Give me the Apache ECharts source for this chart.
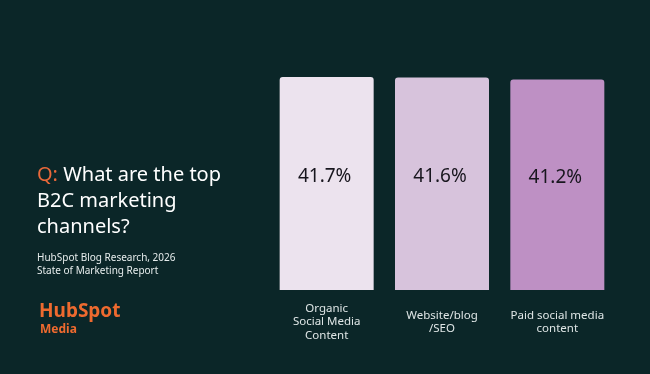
<!DOCTYPE html>
<html><head><meta charset="utf-8">
<script src="https://cdn.jsdelivr.net/npm/echarts@6/dist/echarts.min.js"></script>
<style>html,body{margin:0;padding:0;background:#0b2628;}#c{width:650px;height:374px;}</style>
</head><body><div id="c"></div>
<script>
const categories = ['Organic\nSocial Media\nContent', 'Website/blog\n/SEO', 'Paid social media\ncontent'];
const values = [41.7, 41.6, 41.2];
const barColors = ['#ece3ee', '#d7c3dc', '#be90c4'];
const questionPrefix = 'Q:';
const questionText = ' What are the top\nB2C marketing\nchannels?';
const sourceText = 'HubSpot Blog Research, 2026\nState of Marketing Report';

const FONT = '"Noto Sans", sans-serif';
const chart = echarts.init(document.getElementById('c'), null, {renderer: 'canvas'});
const qLines = questionText.split('\n');
chart.setOption({
  backgroundColor: '#0b2628',
  animation: false,
  grid: {left: 269, right: 35, top: 77, bottom: 84},
  xAxis: {
    type: 'category', data: categories,
    axisLine: {show: false}, axisTick: {show: false},
    axisLabel: {color: '#dfe6e6', fontFamily: FONT, fontSize: 11.5, lineHeight: 13.5,
      verticalAlign: 'middle', margin: 32, interval: 0}
  },
  yAxis: {type: 'value', min: 0, max: 41.7, show: false},
  series: [{
    type: 'bar', barWidth: 94,
    data: values.map((v, i) => ({value: v, itemStyle: {color: barColors[i]}})),
    itemStyle: {borderRadius: [3, 3, 0, 0]},
    label: {show: true, position: 'inside', formatter: p => p.value.toFixed(1) + '%',
      color: '#18161e', fontFamily: FONT, fontSize: 19, offset: [-2, -7]}
  }],
  graphic: [
    {type: 'text', left: 37, top: 165, style: {
      text: '{q|' + questionPrefix + '}{t|' + qLines[0] + '}\n{t|' + qLines.slice(1).join('}\n{t|') + '}',
      rich: {
        q: {fill: '#e8683a', fontFamily: FONT, fontSize: 20, lineHeight: 26},
        t: {fill: '#ffffff', fontFamily: FONT, fontSize: 20, lineHeight: 26}
      }
    }},
    {type: 'text', left: 37, top: 252, style: {
      text: sourceText, fill: '#e6ecec', fontFamily: FONT, fontSize: 10, lineHeight: 13
    }},
    {type: 'text', left: 39, top: 302, style: {
      text: 'HubSpot', fill: '#ee6a2f', fontFamily: FONT, fontSize: 19, fontWeight: 'bold'
    }},
    {type: 'text', left: 40, top: 324, style: {
      text: 'Media', fill: '#ee6a2f', fontFamily: FONT, fontSize: 12, fontWeight: 'bold'
    }}
  ]
});
</script></body></html>
